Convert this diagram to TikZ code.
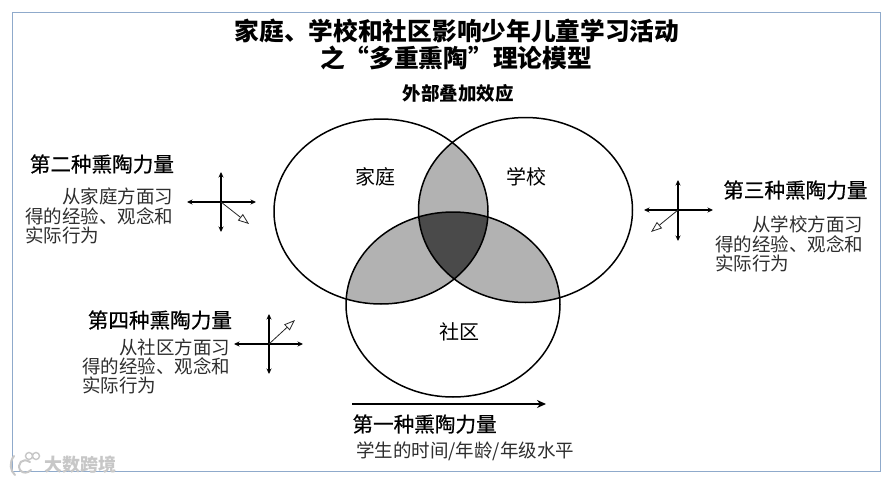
\documentclass[tikz,border=0pt]{standalone}
\usepackage{fontspec}
\setmainfont{Noto Sans CJK SC}
\newfontfamily\headfont[FakeBold=0.6]{Noto Sans CJK SC}
\usetikzlibrary{arrows.meta,shapes.geometric}
\definecolor{framec}{HTML}{8FAACB}
\definecolor{midgray}{HTML}{B2B2B2}
\definecolor{darkgray}{HTML}{4A4A4A}
\definecolor{bodyc}{HTML}{2E2E2E}
\tikzset{
  x=1pt,y=-1pt,
  txt/.style={inner sep=0,outer sep=0,text=bodyc},
  titletxt/.style={txt,text=black,font=\fontsize{24.7}{26}\selectfont\bfseries},
  headtxt/.style={txt,text=black,font=\headfont\fontsize{20.6}{22}\selectfont},
  bodytxt/.style={txt,font=\fontsize{18.5}{20}\selectfont},
  circlabel/.style={txt,text=black,font=\fontsize{20}{22}\selectfont},
  vennc/.style={ellipse,draw=black,line width=1.5pt,inner sep=0,minimum width=214pt,minimum height=185pt},
  axis/.style={black,line width=1.1pt,{Stealth[length=5.5pt,width=5pt]}-{Stealth[length=5.5pt,width=5pt]}},
  diag/.style={black!85,line width=0.8pt,-{Triangle[open,fill=white,length=11pt,width=8pt]}},
  timearrow/.style={black,line width=2.4pt,-{Stealth[length=9pt,width=8pt]}}
}
\newcommand{\famE}{(381,211.5) ellipse [x radius=107pt,y radius=92.5pt]}
\newcommand{\schE}{(525.5,210) ellipse [x radius=107pt,y radius=92.5pt]}
\newcommand{\comE}{(453,304.5) ellipse [x radius=107pt,y radius=92.5pt]}
\begin{document}
\begin{tikzpicture}
\useasboundingbox (0,0) rectangle (892,482);
\fill[white] (0,0) rectangle (892,482);
\draw[framec,line width=0.9pt] (12,12) rectangle (880,471);

% overlaps
\begin{scope}
  \clip \famE; \fill[midgray] \schE;
\end{scope}
\begin{scope}
  \clip \famE; \fill[midgray] \comE;
\end{scope}
\begin{scope}
  \clip \schE; \fill[midgray] \comE;
\end{scope}
\begin{scope}
  \clip \famE; \clip \schE; \fill[darkgray] \comE;
\end{scope}
\node[vennc] (fam) at (381,211.5) {};
\node[vennc] (sch) at (525.5,210) {};
\node[vennc] (com) at (453,304.5) {};

% title
\node[titletxt] (t1) at (457,31) {家庭、学校和社区影响少年儿童学习活动};
\node[titletxt] (t2) at (456,58) {之“多重熏陶”理论模型};
\node[txt,text=black,font=\fontsize{18.5}{20}\selectfont\bfseries] (ext) at (458,93) {外部叠加效应};

\node[circlabel] (lfam) at (375.5,177) {家庭};
\node[circlabel] (lsch) at (526.5,177) {学校};
\node[circlabel] (lcom) at (459,332) {社区};

% second force
\node[headtxt,anchor=east] (h2) at (174,164) {第二种熏陶力量};
\node[bodytxt,anchor=east] (b2a) at (173,196) {从家庭方面习};
\node[bodytxt,anchor=east] (b2b) at (173,216) {得的经验、观念和};
\node[bodytxt,anchor=west] (b2c) at (25,235) {实际行为};
\coordinate (c2) at (221,202);
\coordinate (c2t) at (221,172); \coordinate (c2b) at (221,232);
\coordinate (c2l) at (187,202); \coordinate (c2r) at (256,202);
\coordinate (c2d) at (249,224);
\draw[axis] (c2t) -- (c2b);
\draw[axis] (c2l) -- (c2r);
\draw[diag] (c2) -- (c2d);

% third force
\node[headtxt,anchor=east] (h3) at (867.5,190) {第三种熏陶力量};
\node[bodytxt,anchor=east] (b3a) at (863,224) {从学校方面习};
\node[bodytxt,anchor=east] (b3b) at (863,244) {得的经验、观念和};
\node[bodytxt,anchor=west] (b3c) at (715,263) {实际行为};
\coordinate (c3) at (678,210);
\coordinate (c3t) at (678,180); \coordinate (c3b) at (678,241);
\coordinate (c3l) at (644,210); \coordinate (c3r) at (713,210);
\coordinate (c3d) at (651,232);
\draw[axis] (c3t) -- (c3b);
\draw[axis] (c3l) -- (c3r);
\draw[diag] (c3) -- (c3d);

% fourth force
\node[headtxt,anchor=east] (h4) at (232,320) {第四种熏陶力量};
\node[bodytxt,anchor=east] (b4a) at (230,347) {从社区方面习};
\node[bodytxt,anchor=east] (b4b) at (230,366) {得的经验、观念和};
\node[bodytxt,anchor=west] (b4c) at (82,385) {实际行为};
\coordinate (c4) at (269,344);
\coordinate (c4t) at (269,314); \coordinate (c4b) at (269,374);
\coordinate (c4l) at (234,344); \coordinate (c4r) at (303,344);
\coordinate (c4d) at (295,320);
\draw[axis] (c4t) -- (c4b);
\draw[axis] (c4l) -- (c4r);
\draw[diag] (c4) -- (c4d);

% first force
\coordinate (a1s) at (352,404); \coordinate (a1e) at (546,404);
\draw[timearrow] (a1s) -- (a1e);
\node[headtxt,anchor=west] (h1) at (352.5,424) {第一种熏陶力量};
\node[bodytxt,anchor=west] (b1) at (356,451) {学生的时间/年龄/年级水平};

% watermark
\node[txt,text=black!22,font=\fontsize{18}{20}\selectfont\bfseries,anchor=west] (wm) at (45,465) {大数跨境};
\draw[black!22,line width=2pt,line cap=round] (14,456) .. controls (9,462) and (10,471) .. (15,475);
\draw[black!22,line width=2pt,line cap=round] (30,462) .. controls (22,457) and (17,464) .. (20,470) .. controls (23,474) and (28,473) .. (31,470);
\draw[black!22,line width=1.4pt] (29,456) circle [radius=3.5pt] (36,456) circle [radius=3.5pt];
\end{tikzpicture}
\end{document}
